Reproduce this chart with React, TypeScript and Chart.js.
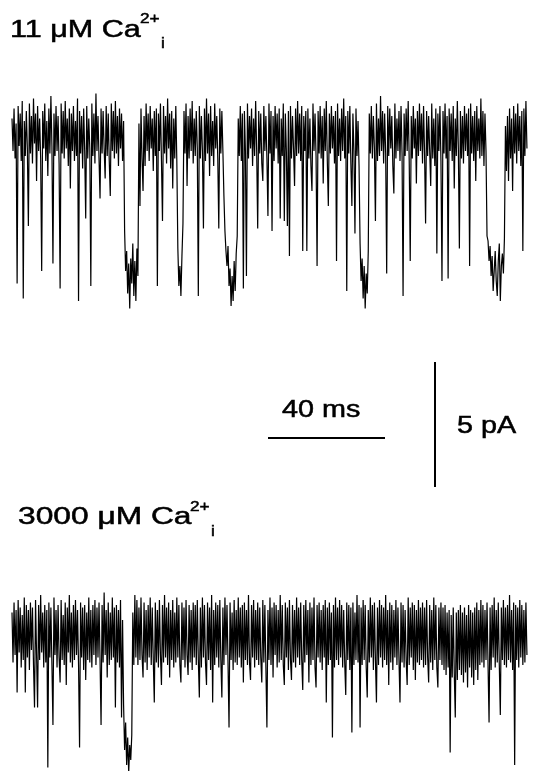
import React, { useEffect, useRef } from "react";
import { Chart, registerables } from "chart.js";

Chart.register(...registerables);

// sampling interval of both records (ms per point)
const SAMPLE_MS = 0.35;

// single-channel current, pA (0 = closed level, negative = inward opening)
const TRACE_11UM: number[] = [
  0.7, -0.6, 1.1, -0.9, 0.5, -5.9, 1.2, -0.4, 0.9, -1.0, 1.4, -6.5, 0.6, -0.8, 1.0, -0.5, -3.6, 1.3, -0.7, 0.8,
  -1.1, 1.5, -0.3, 0.9, -1.8, 1.2, -0.6, 0.7, -0.9, -5.4, 1.0, -0.5, 1.3, -1.0, 0.6, -1.6, 1.1, -0.7, 1.6, -0.4,
  -5.1, 0.9, -0.8, 1.2, -0.6, 0.8, -1.1, -6.1, 1.3, -0.7, 1.0, -0.9, 1.4, -0.5, 0.7, -1.2, 1.1, -2.1, 0.9, -0.6,
  1.2, -1.0, 0.6, -0.8, 1.5, -6.6, 1.0, -0.7, 0.8, -1.3, 1.1, -0.6, -3.3, 1.2, -0.9, 0.7, -0.5, -6.0, 1.3, -0.8,
  0.9, -1.1, 1.7, -0.6, 0.8, -0.9, -2.5, 1.1, -0.7, 1.0, -0.5, -1.7, 1.2, -0.8, 0.9, -1.0, -2.4, 1.3, -0.6, 1.0,
  -0.9, 1.4, -0.7, 0.8, -1.2, 1.1, -0.5, 0.9, -1.0, 0.6, -3.8, -5.4, -4.6, -6.3, -5.1, -6.9, -4.9, -5.9, -4.3, -6.4,
  -5.0, -6.6, -4.5, -5.6, 0.5, -2.8, 1.1, -0.9, -2.2, 0.8, -1.2, 1.3, -0.6, 0.9, -1.0, 1.2, -0.5, 0.7, -1.4, 1.0,
  -0.8, 1.1, -6.0, 0.9, -0.6, 1.3, -1.0, -3.4, 1.2, -0.7, 0.8, -1.1, 1.5, -0.5, 0.9, -1.3, 1.0, -2.1, 0.7, -0.9,
  1.2, -1.0, -4.5, -6.0, -5.2, -6.4, -4.8, -3.5, 1.0, -0.7, 1.3, -2.0, 0.8, -0.9, 1.1, -0.6, 1.4, -1.1, 0.7, -0.8,
  1.0, -0.5, -6.4, 1.2, -0.9, 0.8, -0.6, -3.7, 1.1, -1.0, 1.5, -0.7, 0.9, -1.6, 1.2, -0.8, 0.6, -1.2, 1.3, -0.5,
  0.8, -0.9, -3.7, 1.1, -0.7, 1.0, -0.6, -2.4, -3.8, -4.6, -5.2, -4.4, -6.0, -5.3, -6.8, -5.6, -6.6, -5.0, -6.2, -4.7,
  -4.0, 0.7, -0.8, 1.2, -1.0, 0.9, -6.1, 1.0, -0.6, -5.6, 1.3, -0.9, 0.8, -0.5, 1.1, -1.2, 0.7, -0.8, 1.4, -0.6,
  -3.7, 1.0, -0.7, 0.9, -1.1, -1.8, 1.2, -0.6, 0.8, -0.9, -3.2, 1.3, -0.7, 1.0, -3.8, 0.8, -1.0, 1.2, -0.5, 0.9,
  -1.1, 1.1, -3.3, 0.7, -0.8, 1.3, -3.4, 0.9, -0.6, -3.6, 1.0, -4.8, 1.2, -0.9, 0.8, -0.5, -2.0, 1.1, -0.8, 1.4,
  -0.7, 0.9, -1.0, 1.2, -4.6, 0.8, -0.6, 1.0, -4.6, 1.1, -0.9, 0.7, -1.2, -2.2, 1.3, -0.6, 0.9, -0.8, -5.2, 1.0,
  -0.7, 1.2, -0.9, 0.8, -1.9, 1.1, -0.6, 1.4, -1.0, -2.8, 0.9, -0.7, 1.2, -0.5, 0.8, -1.1, 1.0, -5.0, 1.3, -0.8,
  0.7, -1.0, 1.1, -0.6, 1.5, -0.9, 0.8, -6.2, 1.0, -0.7, 1.2, -1.1, -2.8, 0.9, -0.6, -3.9, 1.1, -0.8, 0.6, -1.2,
  -4.3, -5.8, -4.9, -6.5, -5.2, -6.9, -5.5, -6.3, -4.6, 0.9, -0.7, 1.2, -0.9, 0.8, -0.5, -3.4, 1.3, -1.0, 0.7, -0.8,
  1.6, -0.6, 1.0, -1.1, 0.9, -0.7, -5.5, 1.2, -0.8, 1.1, -0.5, 0.8, -1.2, -2.3, 1.3, -0.9, 0.7, -0.6, 1.0, -1.0,
  1.2, -0.7, -6.4, 0.9, -0.8, 1.1, -0.6, 1.4, -1.0, -5.0, 0.8, -0.9, 1.2, -0.5, 0.7, -1.9, 1.0, -0.8, 1.3, -0.6,
  0.9, -1.1, 1.2, -0.7, -3.5, 1.0, -0.8, 0.8, -0.6, -2.0, 1.3, -0.9, 0.7, -1.2, 1.1, -4.7, 0.9, -0.6, 1.2, -1.0,
  -5.8, 1.0, -0.7, 1.3, -0.9, 0.8, -5.7, 1.1, -0.6, 0.9, -1.0, 1.2, -2.1, 0.7, -0.8, 1.4, -0.5, -4.5, 1.0, -0.9,
  0.8, -1.1, 1.2, -0.6, 0.9, -0.8, 1.1, -5.2, 1.3, -0.7, 0.8, -1.0, 1.0, -1.8, 1.2, -0.6, 0.7, -0.9, 1.5, -0.8,
  1.0, -1.2, 0.9, -0.6, -4.0, -4.2, -5.0, -4.4, -5.6, -4.8, -6.2, -5.4, -4.6, -5.8, -6.4, -5.0, -4.3, -6.6, -5.2, -4.7,
  -5.5, -4.1, 0.4, -1.4, 0.8, -1.8, 1.1, -0.9, 0.7, -2.2, 1.2, -0.7, 0.9, -1.1, 1.3, -0.6, 0.8, -1.2, 1.0, -4.6,
  1.1, -0.8, 1.4, -0.5,
];

const TRACE_3000UM: number[] = [
  0.9, -1.1, 1.3, -0.8, 1.0, -2.3, 1.4, -0.7, 1.1, -1.3, 0.8, -1.0, 1.5, -2.3, 1.2, -0.9, 1.0, -1.4, 1.3, -0.6,
  1.1, -1.2, -2.9, 1.4, -0.8, -2.9, 1.2, -1.0, 1.6, -0.7, 0.9, -1.3, 1.2, -1.1, 1.0, -5.3, 1.3, -0.9, 1.1, -1.2,
  -3.6, 1.5, -0.8, 1.0, -1.3, 1.2, -0.9, -1.9, 1.4, -1.0, 0.8, -1.2, 1.3, -2.0, 1.1, -0.7, 1.6, -1.1, 0.9, -1.3,
  1.2, -1.0, 1.4, -0.8, 1.0, -1.2, -4.5, 1.3, -0.9, 1.1, -1.4, 1.2, -1.8, 0.9, -1.0, 1.5, -1.1, 1.0, -1.3, 1.2,
  -0.8, 1.4, -1.2, 1.1, -0.9, 1.3, -1.0, -3.6, 1.2, -1.1, 1.7, -0.8, 1.0, -1.7, 1.3, -1.2, 0.9, -1.0, 1.5, -0.9,
  1.1, -2.9, 1.2, -1.1, 1.0, -1.3, 1.4, -3.3, 0.6, -2.8, -4.6, -3.5, -5.2, -4.1, -5.5, -4.4, -5.0, -4.0, 0.9, -1.2,
  1.6, -0.9, 1.4, -1.2, 1.1, -1.0, 1.5, -0.8, -1.7, 1.3, -1.1, 1.0, -1.4, 1.2, -0.9, 1.5, -1.2, 1.1, -1.0, -2.7,
  1.3, -1.1, 1.0, -1.3, 1.4, -0.8, -2.0, 1.2, -1.1, 1.6, -0.9, 1.1, -1.2, 1.3, -1.7, 1.0, -1.0, 1.4, -1.3, 0.9,
  -1.1, 1.5, -0.9, 1.2, -1.2, -1.9, 1.3, -1.0, 1.1, -1.3, 1.4, -0.8, -1.6, 1.2, -1.1, 1.0, -1.4, 1.3, -0.9, 1.2,
  -1.2, 1.4, -1.0, -2.5, 1.1, -1.3, 1.5, -0.9, 1.2, -1.1, -2.0, 1.3, -1.0, 1.1, -1.4, 1.6, -2.7, 1.0, -1.2, 1.3,
  -0.9, 1.2, -1.3, 1.4, -1.0, -2.5, 1.1, -1.2, 1.5, -0.8, 1.2, -1.1, -3.7, 1.3, -1.0, 0.9, -1.4, 1.4, -1.1, 1.0,
  -1.2, 1.5, -0.9, 1.1, -1.3, 1.2, -1.9, 1.3, -1.0, 1.0, -1.2, 1.6, -1.1, -1.8, 1.2, -0.9, 1.4, -1.3, 1.0, -1.0,
  1.3, -1.2, 1.1, -0.9, -1.9, 1.4, -1.1, 1.2, -1.3, -3.7, 1.0, -1.0, 1.5, -1.2, 1.1, -1.7, 1.3, -0.8, 1.2, -1.3,
  1.0, -1.1, 1.6, -1.0, 1.2, -1.2, -2.0, 1.3, -0.9, 1.1, -1.4, 1.4, -1.0, -1.8, 1.2, -1.1, 1.0, -1.3, 1.5, -0.9,
  1.1, -1.2, 1.3, -1.0, -2.2, 1.2, -1.1, 1.4, -0.8, 1.0, -1.9, 1.3, -1.2, 1.1, -1.0, 1.5, -1.3, -2.1, 1.2, -0.9,
  1.3, -1.1, 1.0, -1.4, 1.2, -0.9, 1.4, -2.7, 1.1, -1.2, 1.3, -1.0, 0.9, -4.1, 1.2, -1.3, 1.5, -1.0, 1.1, -1.2,
  1.4, -0.9, 1.2, -1.3, 1.0, -1.1, -2.4, 1.3, -1.0, 1.2, -1.4, 1.1, -3.9, 1.3, -1.2, 0.9, -1.0, 1.6, -1.1, 1.2,
  -3.7, 1.1, -1.2, 1.4, -1.0, 1.2, -1.3, -2.5, 1.0, -1.1, 1.5, -0.9, 1.2, -1.4, 1.3, -1.0, -2.7, 1.1, -1.2, 1.4,
  -0.9, 1.2, -1.3, 1.1, -1.0, 1.6, -1.2, 1.0, -2.0, 1.3, -1.1, 1.2, -1.4, 1.0, -0.9, 1.4, -1.2, 1.1, -1.0, -2.7,
  1.3, -1.1, 1.2, -1.3, 1.0, -1.0, -2.0, 1.5, -1.2, 1.1, -0.9, 1.3, -1.4, 1.2, -1.8, 1.0, -1.1, 1.4, -1.2, 1.1,
  -1.0, 1.3, -1.3, 1.1, -1.2, 1.4, -0.9, -1.9, 1.2, -1.1, 1.0, -1.4, 1.5, -1.0, 1.2, -1.3, -2.1, 1.1, -1.0, 1.3,
  -1.2, 1.1, -1.4, 1.2, -1.6, 0.9, -1.3, 1.0, -4.7, 0.8, -1.7, 1.1, -1.5, -3.3, 0.9, -1.8, 1.0, -1.4, 1.2, -1.6,
  0.9, -1.9, 1.1, -1.5, 0.8, -2.1, 1.2, -1.3, 1.0, -1.7, 0.9, -2.0, 1.1, -1.4, 1.3, -1.8, 1.0, -1.2, 1.4, -1.1,
  1.2, -1.3, 1.0, -1.0, 1.3, -1.2, -3.5, 1.1, -1.4, 1.2, -0.9, 1.5, -1.3, 1.0, -1.1, 1.3, -1.2, -3.2, 1.1, -1.0,
  1.4, -1.2, 1.1, -1.3, 1.2, -1.0, 1.6, -1.1, 1.0, -1.4, 1.3, -5.2, 1.2, -1.0, 1.1, -1.3, 1.4, -0.9, 1.2, -1.2,
  1.0, -1.1, 1.3, -0.8,
];

const TRACE_LABELS = ["11 \u03bcM Ca", "3000 \u03bcM Ca"];
const ION_SUP = "2+";
const ION_SUB = "i";

const SCALE_TIME_MS = 40;
const SCALE_CURRENT_PA = 5;
const SCALE_TIME_LABEL = "40 ms";
const SCALE_CURRENT_LABEL = "5 pA";

// ---- layout (not data) ----
const W = 536;
const H = 771;
const PX_PER_MS = 2.925;
const PX_PER_PA = 25;
const X_MIN = -12 / PX_PER_MS;
const X_MAX = X_MIN + W / PX_PER_MS;
const Y_MAX = 0;
const Y_MIN = -H / PX_PER_PA;
const TOP_OFFSET = -136 / PX_PER_PA;
const BOTTOM_OFFSET = -635 / PX_PER_PA;
const HBAR_X0 = 268 / PX_PER_MS + X_MIN;
const HBAR_Y = -438 / PX_PER_PA;
const VBAR_X = 435 / PX_PER_MS + X_MIN;
const VBAR_Y0 = -362 / PX_PER_PA;

const FONT = '"Liberation Sans", Arial, Helvetica, sans-serif';

function Txt(props: { x: number; baseline: number; size: number; text: string; sx?: number }) {
  const { x, baseline, size, text, sx = 1.25 } = props;
  return (
    <div
      style={{
        position: "absolute",
        left: x,
        top: baseline - 0.8465 * size,
        fontSize: size,
        lineHeight: 1,
        whiteSpace: "nowrap",
        fontFamily: FONT,
        color: "#000",
        WebkitTextStroke: "0.5px #000",
        transform: `scaleX(${sx})`,
        transformOrigin: "left top",
      }}
    >
      {text}
    </div>
  );
}

export default function App() {
  const ref = useRef<HTMLCanvasElement | null>(null);

  useEffect(() => {
    if (!ref.current) return;
    const toPts = (arr: number[], off: number) =>
      arr.map((v, i) => ({ x: i * SAMPLE_MS, y: v + off }));
    const traceStyle = {
      borderColor: "#000",
      borderWidth: 1.2,
      pointRadius: 0,
      tension: 0,
      fill: false,
    };
    const chart = new Chart(ref.current, {
      type: "line",
      data: {
        datasets: [
          { label: TRACE_LABELS[0], data: toPts(TRACE_11UM, TOP_OFFSET), ...traceStyle },
          { label: TRACE_LABELS[1], data: toPts(TRACE_3000UM, BOTTOM_OFFSET), ...traceStyle },
          {
            label: SCALE_TIME_LABEL,
            data: [
              { x: HBAR_X0, y: HBAR_Y },
              { x: HBAR_X0 + SCALE_TIME_MS, y: HBAR_Y },
            ],
            borderColor: "#000",
            borderWidth: 2,
            pointRadius: 0,
          },
          {
            label: SCALE_CURRENT_LABEL,
            data: [
              { x: VBAR_X, y: VBAR_Y0 },
              { x: VBAR_X, y: VBAR_Y0 - SCALE_CURRENT_PA },
            ],
            borderColor: "#000",
            borderWidth: 2,
            pointRadius: 0,
          },
        ],
      },
      options: {
        animation: false,
        responsive: false,
        maintainAspectRatio: false,
        devicePixelRatio: 1,
        layout: { padding: 0 },
        plugins: { legend: { display: false }, tooltip: { enabled: false } },
        scales: {
          x: { type: "linear", min: X_MIN, max: X_MAX, display: false },
          y: { type: "linear", min: Y_MIN, max: Y_MAX, display: false },
        },
      },
    });
    return () => chart.destroy();
  }, []);

  return (
    <div
      style={{
        position: "absolute",
        left: 0,
        top: 0,
        width: W,
        height: H,
        background: "#fff",
        overflow: "hidden",
      }}
    >
      <canvas ref={ref} width={W} height={H} style={{ position: "absolute", left: 0, top: 0, width: W, height: H }} />
      <Txt x={10} baseline={38} size={23.5} text={TRACE_LABELS[0]} sx={1.3} />
      <Txt x={140} baseline={23} size={15} text={ION_SUP} sx={1.15} />
      <Txt x={161} baseline={48} size={15} text={ION_SUB} sx={1.15} />
      <Txt x={18} baseline={525} size={23.5} text={TRACE_LABELS[1]} sx={1.35} />
      <Txt x={190} baseline={511} size={15} text={ION_SUP} sx={1.15} />
      <Txt x={211} baseline={536} size={15} text={ION_SUB} sx={1.15} />
      <Txt x={282} baseline={417} size={23} text={SCALE_TIME_LABEL} />
      <Txt x={457} baseline={433} size={23} text={SCALE_CURRENT_LABEL} />
    </div>
  );
}
